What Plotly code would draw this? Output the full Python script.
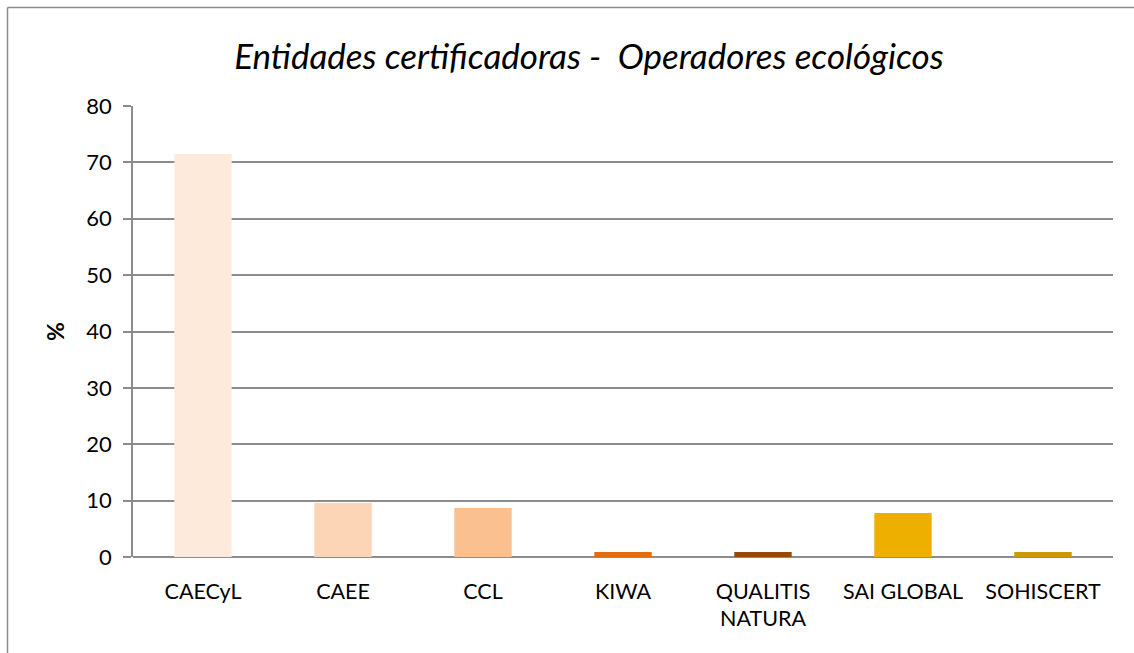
import plotly.graph_objects as go

categories = ["CAECyL", "CAEE", "CCL", "KIWA", "QUALITIS<br>NATURA", "SAI GLOBAL", "SOHISCERT"]
values = [71.5, 9.6, 8.7, 0.9, 0.9, 7.8, 0.9]
colors = ["#FDEADA", "#FBD5B5", "#FAC090", "#E46C0A", "#984807", "#EDB000", "#CC9A00"]
y_ticks = [0, 10, 20, 30, 40, 50, 60, 70, 80]

W, H = 1134, 653
L, R, T, B = 133, 21, 106, 96
pw, ph = W - L - R, H - T - B

def px_x(p):
    return (p - L) / pw

def px_y(p):
    return (H - B - p) / ph

FONT = "Lato"

fig = go.Figure(go.Bar(
    x=categories, y=values, marker=dict(color=colors, line=dict(width=0)),
    width=0.41, hoverinfo="x+y",
))

fig.update_layout(
    width=W, height=H,
    margin=dict(l=L, r=R, t=T, b=B),
    paper_bgcolor="white", plot_bgcolor="white",
    showlegend=False,
    font=dict(family=FONT, size=21, color="#000000"),
    title=dict(
        text="<i>Entidades certificadoras -  Operadores ecológicos</i>",
        font=dict(family=FONT, size=35, color="#000000"),
        x=589 / W, xanchor="center", xref="container",
        y=1 - 57 / H, yanchor="middle", yref="container",
    ),
    xaxis=dict(
        showgrid=False, showline=False, ticks="", zeroline=False,
        tickfont=dict(family=FONT, size=21.5), ticklabelstandoff=19,
    ),
    yaxis=dict(
        range=[0, 80], tickvals=y_ticks, showgrid=True, gridcolor="#8C8C8C", gridwidth=1.5,
        showline=True, linecolor="#8C8C8C", linewidth=1.5,
        ticks="outside", ticklen=8, tickcolor="#8C8C8C", tickwidth=1.5,
        zeroline=True, zerolinecolor="#8C8C8C", zerolinewidth=1.5,
        tickfont=dict(family=FONT, size=22), ticklabelstandoff=7,
        title=dict(text="<b>%</b>", font=dict(family=FONT, size=23), standoff=15),
    ),
    shapes=[
        dict(type="line", xref="paper", yref="paper",
             x0=px_x(7.5), x1=px_x(7.5), y0=px_y(7.5), y1=px_y(H),
             line=dict(color="#8C8C8C", width=1.5)),
        dict(type="line", xref="paper", yref="paper",
             x0=px_x(7.5), x1=px_x(W), y0=px_y(7.5), y1=px_y(7.5),
             line=dict(color="#8C8C8C", width=1.5)),
    ],
)

fig.write_html("out.html", config={"displayModeBar": False},
               post_script="document.body.style.margin='0';")
